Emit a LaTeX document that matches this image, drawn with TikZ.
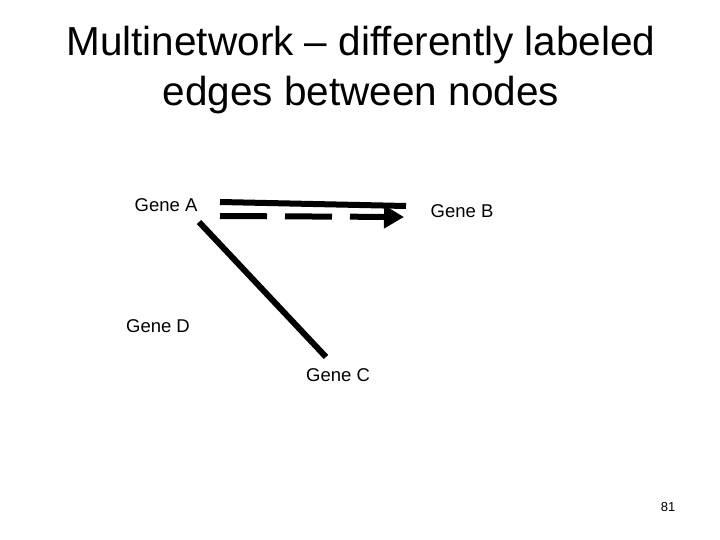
\documentclass[tikz,border=0pt]{standalone}
\usepackage{fontspec}
\setmainfont{Liberation Sans}
\usetikzlibrary{arrows.meta}
\tikzset{
  gene/.style={font=\fontsize{18.5}{22}\selectfont},
  edge/.style={draw, line width=6pt},
  dashedge/.style={edge, dash pattern=on 47pt off 18pt, -{Triangle[length=20pt,width=22pt]}}
}
\begin{document}
\begin{tikzpicture}[x=1pt,y=-1pt]
    \useasboundingbox (0,0) rectangle (720,540);
    % Title
    \node [font=\fontsize{40.5}{50}\selectfont, align=center] (title) at (361,70) {Multinetwork -- differently labeled\\edges between nodes};
    % Place nodes
    \node [gene] (geneA) at (166,205) {Gene A};
    \node [gene] (geneB) at (462,211) {Gene B};
    \node [gene] (geneD) at (158,326) {Gene D};
    \node [gene] (geneC) at (338,375) {Gene C};
    \coordinate (aSolid) at (220,202);
    \coordinate (bSolid) at (406,206);
    \coordinate (aDash) at (220,216);
    \coordinate (bDash) at (404,217);
    \coordinate (aDiag) at (199,222);
    \coordinate (cDiag) at (326,357);
    % Draw edges
    \path [edge] (aSolid) -- (bSolid);
    \path [dashedge] (aDash) -- (bDash);
    \path [edge] (aDiag) -- (cDiag);
    \node [font=\fontsize{13}{15}\selectfont] (page) at (668,507) {81};
\end{tikzpicture}
\end{document}
